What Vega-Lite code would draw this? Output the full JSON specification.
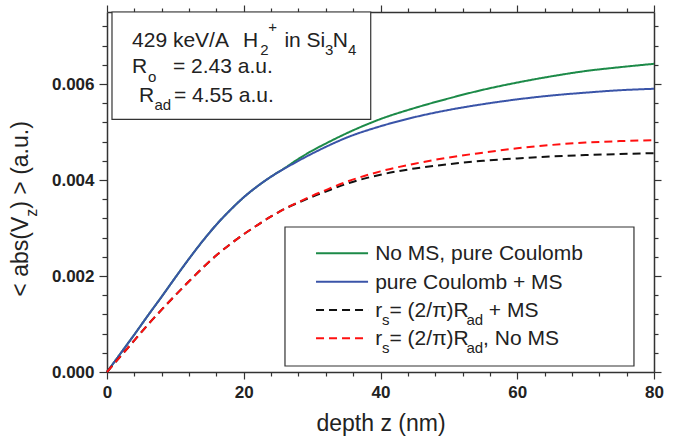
{
  "$schema": "https://vega.github.io/schema/vega-lite/v6.json",
  "width": 547,
  "height": 360,
  "autosize": {"type": "none"},
  "padding": {"left": 107, "top": 12, "right": 28, "bottom": 70},
  "background": "white",
  "config": {"view": {"stroke": null}, "font": "Liberation Sans"},
  "datasets": {
    "curves": [
      {"s":"g","z":0,"v":0},{"s":"g","z":2,"v":0.00039},{"s":"g","z":4,"v":0.00078},{"s":"g","z":6,"v":0.00118},{"s":"g","z":8,"v":0.00157},{"s":"g","z":10,"v":0.00197},{"s":"g","z":12,"v":0.00236},{"s":"g","z":14,"v":0.00273},{"s":"g","z":16,"v":0.00307},{"s":"g","z":18,"v":0.00337},{"s":"g","z":20,"v":0.00364},{"s":"g","z":22,"v":0.00387},{"s":"g","z":24,"v":0.00407},{"s":"g","z":26,"v":0.00425},{"s":"g","z":28,"v":0.00444},{"s":"g","z":30,"v":0.00461},{"s":"g","z":32,"v":0.00476},{"s":"g","z":35,"v":0.00497},{"s":"g","z":40,"v":0.00527},{"s":"g","z":45,"v":0.0055},{"s":"g","z":50,"v":0.0057},{"s":"g","z":55,"v":0.00588},{"s":"g","z":60,"v":0.00603},{"s":"g","z":65,"v":0.00616},{"s":"g","z":70,"v":0.00627},{"s":"g","z":75,"v":0.00635},{"s":"g","z":80,"v":0.00642},
      {"s":"b","z":0,"v":0},{"s":"b","z":2,"v":0.00039},{"s":"b","z":4,"v":0.00078},{"s":"b","z":6,"v":0.00118},{"s":"b","z":8,"v":0.00157},{"s":"b","z":10,"v":0.00197},{"s":"b","z":12,"v":0.00236},{"s":"b","z":14,"v":0.00273},{"s":"b","z":16,"v":0.00307},{"s":"b","z":18,"v":0.00337},{"s":"b","z":20,"v":0.00364},{"s":"b","z":22,"v":0.00387},{"s":"b","z":24,"v":0.00407},{"s":"b","z":26,"v":0.00424},{"s":"b","z":28,"v":0.0044},{"s":"b","z":30,"v":0.00455},{"s":"b","z":32,"v":0.00469},{"s":"b","z":35,"v":0.00488},{"s":"b","z":40,"v":0.00512},{"s":"b","z":45,"v":0.00531},{"s":"b","z":50,"v":0.00546},{"s":"b","z":55,"v":0.00558},{"s":"b","z":60,"v":0.00568},{"s":"b","z":65,"v":0.00576},{"s":"b","z":70,"v":0.00582},{"s":"b","z":75,"v":0.00587},{"s":"b","z":80,"v":0.0059},
      {"s":"k","z":0,"v":0},{"s":"k","z":2,"v":0.00033},{"s":"k","z":4,"v":0.00066},{"s":"k","z":6,"v":0.00099},{"s":"k","z":8,"v":0.0013},{"s":"k","z":10,"v":0.0016},{"s":"k","z":12,"v":0.00189},{"s":"k","z":14,"v":0.00217},{"s":"k","z":16,"v":0.00243},{"s":"k","z":18,"v":0.00266},{"s":"k","z":20,"v":0.00287},{"s":"k","z":22,"v":0.00306},{"s":"k","z":24,"v":0.00324},{"s":"k","z":26,"v":0.0034},{"s":"k","z":28,"v":0.00353},{"s":"k","z":30,"v":0.00365},{"s":"k","z":32,"v":0.00376},{"s":"k","z":35,"v":0.00392},{"s":"k","z":40,"v":0.00411},{"s":"k","z":45,"v":0.00424},{"s":"k","z":50,"v":0.00433},{"s":"k","z":55,"v":0.0044},{"s":"k","z":60,"v":0.00445},{"s":"k","z":65,"v":0.00449},{"s":"k","z":70,"v":0.00452},{"s":"k","z":75,"v":0.00454},{"s":"k","z":80,"v":0.00456},
      {"s":"r","z":0,"v":0},{"s":"r","z":2,"v":0.00033},{"s":"r","z":4,"v":0.00066},{"s":"r","z":6,"v":0.00099},{"s":"r","z":8,"v":0.0013},{"s":"r","z":10,"v":0.0016},{"s":"r","z":12,"v":0.00189},{"s":"r","z":14,"v":0.00217},{"s":"r","z":16,"v":0.00243},{"s":"r","z":18,"v":0.00266},{"s":"r","z":20,"v":0.00287},{"s":"r","z":22,"v":0.00306},{"s":"r","z":24,"v":0.00324},{"s":"r","z":26,"v":0.0034},{"s":"r","z":28,"v":0.00354},{"s":"r","z":30,"v":0.00367},{"s":"r","z":32,"v":0.00379},{"s":"r","z":35,"v":0.00396},{"s":"r","z":40,"v":0.00418},{"s":"r","z":45,"v":0.00434},{"s":"r","z":50,"v":0.00447},{"s":"r","z":55,"v":0.00457},{"s":"r","z":60,"v":0.00466},{"s":"r","z":65,"v":0.00473},{"s":"r","z":70,"v":0.00478},{"s":"r","z":75,"v":0.00481},{"s":"r","z":80,"v":0.00483}
    ],
    "boxes": [
      {"z1":0.73,"z2":38.57,"v1":0.0075,"v2":0.005265},
      {"z1":26.03,"z2":77.07,"v1":0.003021,"v2":0.000125}
    ],
    "keys": [
      {"s":"g","z1":30.57,"z2":38.18,"v":0.002473},
      {"s":"b","z1":30.57,"z2":38.18,"v":0.001881},
      {"s":"k","z1":30.57,"z2":38.18,"v":0.001292},
      {"s":"r","z1":30.57,"z2":38.18,"v":0.000702}
    ],
    "labels": [
      {"t":"429 keV/A","z":3.66,"v":0.006777,"r":"m"},
      {"t":"H","z":19.89,"v":0.006777,"r":"m"},
      {"t":"2","z":22.4,"v":0.006604,"r":"s"},
      {"t":"+","z":23.6,"v":0.00709,"r":"s"},
      {"t":"in Si","z":25.95,"v":0.006777,"r":"m"},
      {"t":"3","z":31.88,"v":0.006604,"r":"s"},
      {"t":"N","z":33.0,"v":0.006777,"r":"m"},
      {"t":"4","z":35.25,"v":0.006604,"r":"s"},
      {"t":"R","z":3.66,"v":0.006223,"r":"m"},
      {"t":"o","z":6.0,"v":0.006042,"r":"s"},
      {"t":"= 2.43 a.u.","z":9.65,"v":0.006223,"r":"m"},
      {"t":"R","z":4.68,"v":0.005631,"r":"m"},
      {"t":"ad","z":6.95,"v":0.005458,"r":"s"},
      {"t":"= 4.55 a.u.","z":9.8,"v":0.005631,"r":"m"},
      {"t":"No MS, pure Coulomb","z":39.22,"v":0.002327,"r":"m"},
      {"t":"pure Coulomb + MS","z":39.22,"v":0.001735,"r":"m"},
      {"t":"r","z":39.22,"v":0.001146,"r":"m"},
      {"t":"s","z":40.22,"v":0.000979,"r":"s"},
      {"t":"= (2/π)R","z":41.32,"v":0.001146,"r":"m"},
      {"t":"ad","z":52.56,"v":0.000979,"r":"s"},
      {"t":"+ MS","z":55.85,"v":0.001146,"r":"m"},
      {"t":"r","z":39.22,"v":0.000556,"r":"m"},
      {"t":"s","z":40.22,"v":0.00039,"r":"s"},
      {"t":"= (2/π)R","z":41.32,"v":0.000556,"r":"m"},
      {"t":"ad","z":52.56,"v":0.00039,"r":"s"},
      {"t":", No MS","z":55.0,"v":0.000556,"r":"m"},
      {"t":"< abs(V","z":-11.55,"v":0.001569,"r":"ym"},
      {"t":"z","z":-10.31,"v":0.003235,"r":"ys"},
      {"t":") > (a.u.)","z":-11.55,"v":0.003402,"r":"ym"}
    ]
  },
  "layer": [
    {
      "data": {"name": "curves"},
      "transform": [{"filter": "datum.s === 'g'"}],
      "mark": {"type": "line", "strokeWidth": 2, "interpolate": "monotone"},
      "encoding": {
        "x": {"field": "z", "type": "quantitative", "scale": {"domain": [0, 80], "nice": false, "zero": false},
          "axis": {"orient": "bottom", "values": [0,4,8,12,16,20,24,28,32,36,40,44,48,52,56,60,64,68,72,76,80],
            "labelExpr": "datum.value % 20 === 0 ? format(datum.value, 'd') : ''",
            "tickSize": {"condition": {"test": "datum.value % 20 === 0", "value": 7}, "value": 4},
            "title": "depth z (nm)", "titleFontSize": 23, "titleFontWeight": "normal", "titleColor": "#222", "titlePadding": 12,
            "labelFontSize": 17, "labelFontWeight": "bold", "labelColor": "#222", "labelPadding": 5,
            "labelOverlap": false, "labelFlush": false, "labelBound": false,
            "domainColor": "#333", "domainWidth": 1.5, "tickColor": "#333", "tickWidth": 1.2, "grid": false}},
        "y": {"field": "v", "type": "quantitative", "scale": {"domain": [0, 0.0075], "nice": false},
          "axis": {"orient": "left", "values": [0,0.0004,0.0008,0.0012,0.0016,0.002,0.0024,0.0028,0.0032,0.0036,0.004,0.0044,0.0048,0.0052,0.0056,0.006,0.0064,0.0068,0.0072],
            "labelExpr": "abs(datum.value/0.002 - round(datum.value/0.002)) < 1e-6 ? format(datum.value, '.3f') : ''",
            "tickSize": {"condition": {"test": "abs(datum.value/0.002 - round(datum.value/0.002)) < 1e-6", "value": 8}, "value": 5},
            "title": null,
            "labelFontSize": 17, "labelFontWeight": "bold", "labelColor": "#222", "labelPadding": 5,
            "labelOverlap": false, "labelFlush": false, "labelBound": false,
            "domainColor": "#333", "domainWidth": 1.5, "tickColor": "#333", "tickWidth": 1.2, "grid": false}},
        "color": {"field": "s", "type": "nominal", "scale": {"domain": ["g","b","k","r"], "range": ["#1c8a48","#3a54a8","#111111","#ff1010"]}, "legend": null},
        "strokeDash": {"field": "s", "type": "nominal", "scale": {"domain": ["g","b","k","r"], "range": [[1,0],[1,0],[8,5],[8,5]]}, "legend": null}
      }
    },
    {
      "data": {"name": "curves"},
      "transform": [{"filter": "datum.s === 'b'"}],
      "mark": {"type": "line", "strokeWidth": 2, "interpolate": "monotone"},
      "encoding": {
        "x": {"field": "z", "type": "quantitative",
          "axis": {"orient": "top", "values": [0,4,8,12,16,20,24,28,32,36,40,44,48,52,56,60,64,68,72,76,80],
            "labels": false, "title": null,
            "tickSize": {"condition": {"test": "datum.value % 20 === 0", "value": 7}, "value": 4},
            "domainColor": "#333", "domainWidth": 1.5, "tickColor": "#333", "tickWidth": 1.2, "grid": false}},
        "y": {"field": "v", "type": "quantitative",
          "axis": {"orient": "right", "values": [0,0.0004,0.0008,0.0012,0.0016,0.002,0.0024,0.0028,0.0032,0.0036,0.004,0.0044,0.0048,0.0052,0.0056,0.006,0.0064,0.0068,0.0072],
            "labels": false, "title": null,
            "tickSize": {"condition": {"test": "abs(datum.value/0.002 - round(datum.value/0.002)) < 1e-6", "value": 7}, "value": 4},
            "domainColor": "#333", "domainWidth": 1.5, "tickColor": "#333", "tickWidth": 1.2, "grid": false}},
        "color": {"field": "s", "type": "nominal", "legend": null},
        "strokeDash": {"field": "s", "type": "nominal", "legend": null}
      }
    },
    {
      "data": {"name": "curves"},
      "transform": [{"filter": "datum.s === 'k'"}],
      "mark": {"type": "line", "strokeWidth": 2, "interpolate": "monotone"},
      "encoding": {
        "x": {"field": "z", "type": "quantitative", "axis": null},
        "y": {"field": "v", "type": "quantitative", "axis": null},
        "color": {"field": "s", "type": "nominal", "legend": null},
        "strokeDash": {"field": "s", "type": "nominal", "legend": null}
      }
    },
    {
      "data": {"name": "curves"},
      "transform": [{"filter": "datum.s === 'r'"}],
      "mark": {"type": "line", "strokeWidth": 2, "interpolate": "monotone"},
      "encoding": {
        "x": {"field": "z", "type": "quantitative", "axis": null},
        "y": {"field": "v", "type": "quantitative", "axis": null},
        "color": {"field": "s", "type": "nominal", "legend": null},
        "strokeDash": {"field": "s", "type": "nominal", "legend": null}
      }
    },
    {
      "data": {"name": "boxes"},
      "mark": {"type": "rect", "fill": "white", "stroke": "#333", "strokeWidth": 1.2},
      "encoding": {
        "x": {"field": "z1", "type": "quantitative", "axis": null},
        "x2": {"field": "z2"},
        "y": {"field": "v1", "type": "quantitative", "axis": null},
        "y2": {"field": "v2"}
      }
    },
    {
      "data": {"name": "keys"},
      "mark": {"type": "rule", "strokeWidth": 2},
      "encoding": {
        "x": {"field": "z1", "type": "quantitative", "axis": null},
        "x2": {"field": "z2"},
        "y": {"field": "v", "type": "quantitative", "axis": null},
        "color": {"field": "s", "type": "nominal", "legend": null},
        "strokeDash": {"field": "s", "type": "nominal", "legend": null}
      }
    },
    {
      "data": {"name": "labels"},
      "transform": [{"filter": "datum.r === 'm'"}],
      "mark": {"type": "text", "align": "left", "baseline": "alphabetic", "fontSize": 21, "color": "#222"},
      "encoding": {
        "x": {"field": "z", "type": "quantitative", "axis": null},
        "y": {"field": "v", "type": "quantitative", "axis": null},
        "text": {"field": "t"}
      }
    },
    {
      "data": {"name": "labels"},
      "transform": [{"filter": "datum.r === 's'"}],
      "mark": {"type": "text", "align": "left", "baseline": "alphabetic", "fontSize": 15, "color": "#222"},
      "encoding": {
        "x": {"field": "z", "type": "quantitative", "axis": null},
        "y": {"field": "v", "type": "quantitative", "axis": null},
        "text": {"field": "t"}
      }
    },
    {
      "data": {"name": "labels"},
      "transform": [{"filter": "datum.r === 'ym'"}],
      "mark": {"type": "text", "align": "left", "baseline": "alphabetic", "fontSize": 23, "angle": 270, "color": "#222"},
      "encoding": {
        "x": {"field": "z", "type": "quantitative", "axis": null},
        "y": {"field": "v", "type": "quantitative", "axis": null},
        "text": {"field": "t"}
      }
    },
    {
      "data": {"name": "labels"},
      "transform": [{"filter": "datum.r === 'ys'"}],
      "mark": {"type": "text", "align": "left", "baseline": "alphabetic", "fontSize": 16, "angle": 270, "color": "#222"},
      "encoding": {
        "x": {"field": "z", "type": "quantitative", "axis": null},
        "y": {"field": "v", "type": "quantitative", "axis": null},
        "text": {"field": "t"}
      }
    }
  ],
  "resolve": {"axis": {"x": "independent", "y": "independent"}}
}
